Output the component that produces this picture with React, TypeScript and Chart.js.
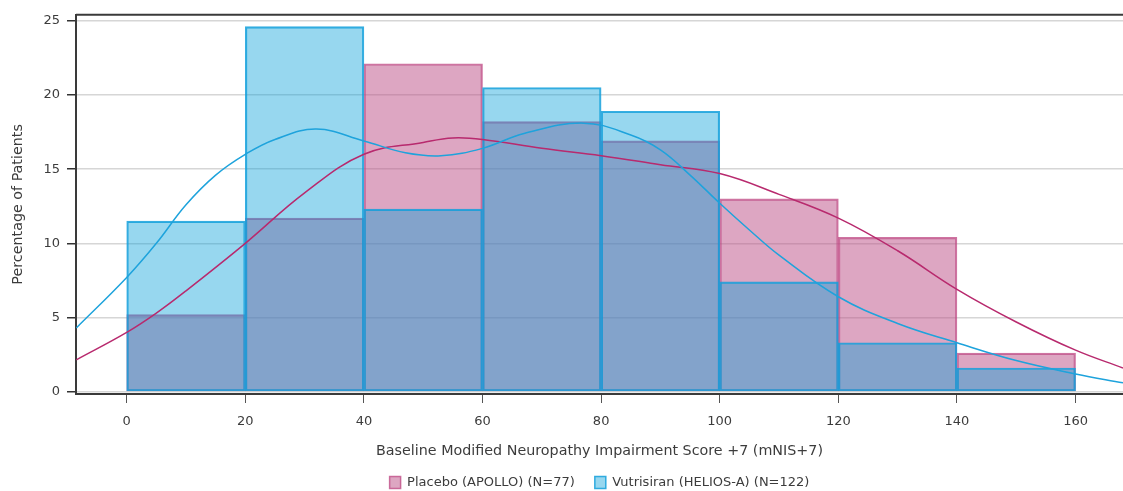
import React, { useEffect, useRef } from "react";
import { Chart, registerables } from "chart.js";

Chart.register(...registerables);

// Histogram bins (mNIS+7), bin centres, width 20
const binCenters = [10, 30, 50, 70, 90, 110, 130, 150];
const placeboPct = [5.2, 11.7, 22.1, 18.2, 16.9, 13.0, 10.4, 2.6];
const vutrisiranPct = [11.5, 24.6, 12.3, 20.5, 18.9, 7.4, 3.3, 1.6];

// Density curves
const placeboCurveX = [-8.5, 0, 5, 10, 20, 30, 40, 50, 55, 60, 70, 80, 90, 100, 110, 120, 130, 140, 150, 160, 168];
const placeboCurveY = [2.15, 4.0, 5.3, 6.8, 10.0, 13.4, 16.0, 16.8, 17.1, 17.0, 16.4, 15.9, 15.3, 14.7, 13.3, 11.7, 9.5, 6.9, 4.7, 2.8, 1.6];
const vutrisiranCurveX = [-8.5, 0, 5, 10, 15, 20, 25, 32, 40, 47, 53, 60, 67, 77, 85, 90, 95, 100, 105, 110, 120, 130, 140, 150, 160, 168];
const vutrisiranCurveY = [4.3, 7.7, 10.0, 12.6, 14.6, 16.0, 17.0, 17.7, 16.9, 16.1, 15.9, 16.4, 17.4, 18.1, 17.3, 16.3, 14.6, 12.7, 10.9, 9.2, 6.4, 4.6, 3.3, 2.1, 1.2, 0.6];

const placeboLabel = "Placebo (APOLLO) (N=77)";
const vutrisiranLabel = "Vutrisiran (HELIOS-A) (N=122)";
const xTitle = "Baseline Modified Neuropathy Impairment Score +7 (mNIS+7)";
const yTitle = "Percentage of Patients";

const FONT = "'DejaVu Sans', sans-serif";
const TEXT = "#3c3c3c";

const frameAndLegend = {
  id: "frameAndLegend",
  afterLayout(chart: any) {
    // centre the legend under the plot area rather than the canvas
    const lg = chart.legend;
    if (lg) {
      const shift = (chart.chartArea.left + chart.chartArea.right) / 2 - (lg.left + lg.right) / 2;
      lg.left += shift;
      lg.right += shift;
    }
  },
  afterDraw(chart: any) {
    const { ctx, chartArea } = chart;
    ctx.save();
    ctx.strokeStyle = "#3a3a3a";
    ctx.lineWidth = 2;
    ctx.beginPath();
    ctx.moveTo(chartArea.left, chartArea.top);
    ctx.lineTo(chartArea.right, chartArea.top);
    ctx.stroke();
    ctx.restore();
  },
};

export default function App() {
  const ref = useRef<HTMLCanvasElement | null>(null);
  useEffect(() => {
    if (!ref.current) return;
    const chart = new Chart(ref.current, {
      type: "bar",
      data: {
        datasets: [
          {
            type: "bar",
            label: placeboLabel,
            data: binCenters.map((x, i) => ({ x, y: placeboPct[i] })),
            backgroundColor: "rgba(187,77,133,0.5)",
            borderColor: "rgba(190,70,130,0.75)",
            borderWidth: 1.5,
            borderSkipped: false,
            grouped: false,
            barPercentage: 1,
            categoryPercentage: 1,
            order: 3,
          },
          {
            type: "bar",
            label: vutrisiranLabel,
            data: binCenters.map((x, i) => ({ x, y: vutrisiranPct[i] })),
            backgroundColor: "rgba(7,160,217,0.42)",
            borderColor: "rgba(20,160,220,0.85)",
            borderWidth: 1.5,
            borderSkipped: false,
            grouped: false,
            barPercentage: 1,
            categoryPercentage: 1,
            order: 2,
          },
          {
            type: "line",
            label: "placebo density",
            data: placeboCurveX.map((x, i) => ({ x, y: placeboCurveY[i] })),
            borderColor: "#b82a6e",
            borderWidth: 1.5,
            pointRadius: 0,
            tension: 0.4,
            fill: false,
            order: 1,
          },
          {
            type: "line",
            label: "vutrisiran density",
            data: vutrisiranCurveX.map((x, i) => ({ x, y: vutrisiranCurveY[i] })),
            borderColor: "#1ea3dc",
            borderWidth: 1.5,
            pointRadius: 0,
            tension: 0.4,
            fill: false,
            order: 0,
          },
        ],
      },
      options: {
        animation: false,
        responsive: true,
        maintainAspectRatio: false,
        layout: { padding: { top: 12, left: 0, right: 0, bottom: -8 } },
        plugins: {
          tooltip: { enabled: false },
          legend: {
            position: "bottom",
            labels: {
              font: { family: FONT, size: 13 },
              color: TEXT,
              boxWidth: 11,
              boxHeight: 12,
              padding: 20,
              filter: (item: any) => item.datasetIndex < 2,
              sort: (a: any, b: any) => a.datasetIndex - b.datasetIndex,
            },
          },
        },
        scales: {
          x: {
            type: "linear",
            min: -8.55,
            max: 168,
            offset: false,
            afterFit: (s: any) => {
              s.height = 62;
            },
            border: { display: true, color: "#3a3a3a", width: 2 },
            grid: {
              display: true,
              offset: false,
              drawOnChartArea: false,
              drawTicks: true,
              tickLength: 9,
              color: "#555",
            },
            ticks: {
              stepSize: 20,
              includeBounds: false,
              padding: 11,
              font: { family: FONT, size: 13 },
              color: TEXT,
            },
            title: {
              display: true,
              text: xTitle,
              font: { family: FONT, size: 14.3, lineHeight: "10px" },
              color: TEXT,
              padding: { top: 0, bottom: 0 },
            },
          },
          y: {
            type: "linear",
            min: -0.153,
            max: 25.4,
            afterFit: (s: any) => {
              s.width = 76;
            },
            border: { display: true, color: "#3a3a3a", width: 2 },
            grid: {
              color: "#d6d6d6",
              lineWidth: 1.5,
              tickLength: 9,
              tickColor: "#333",
              tickWidth: 1.5,
            },
            ticks: {
              stepSize: 5,
              includeBounds: false,
              padding: 7,
              font: { family: FONT, size: 13 },
              color: TEXT,
            },
            title: {
              display: true,
              text: yTitle,
              font: { family: FONT, size: 14.3, lineHeight: "10px" },
              color: TEXT,
              padding: { top: 13, bottom: 0 },
            },
          },
        },
      },
      plugins: [frameAndLegend],
    } as any);
    return () => chart.destroy();
  }, []);
  return (
    <div style={{ position: "absolute", left: 0, top: 0, width: 1123, height: 491, background: "#fff" }}>
      <canvas ref={ref} />
    </div>
  );
}
